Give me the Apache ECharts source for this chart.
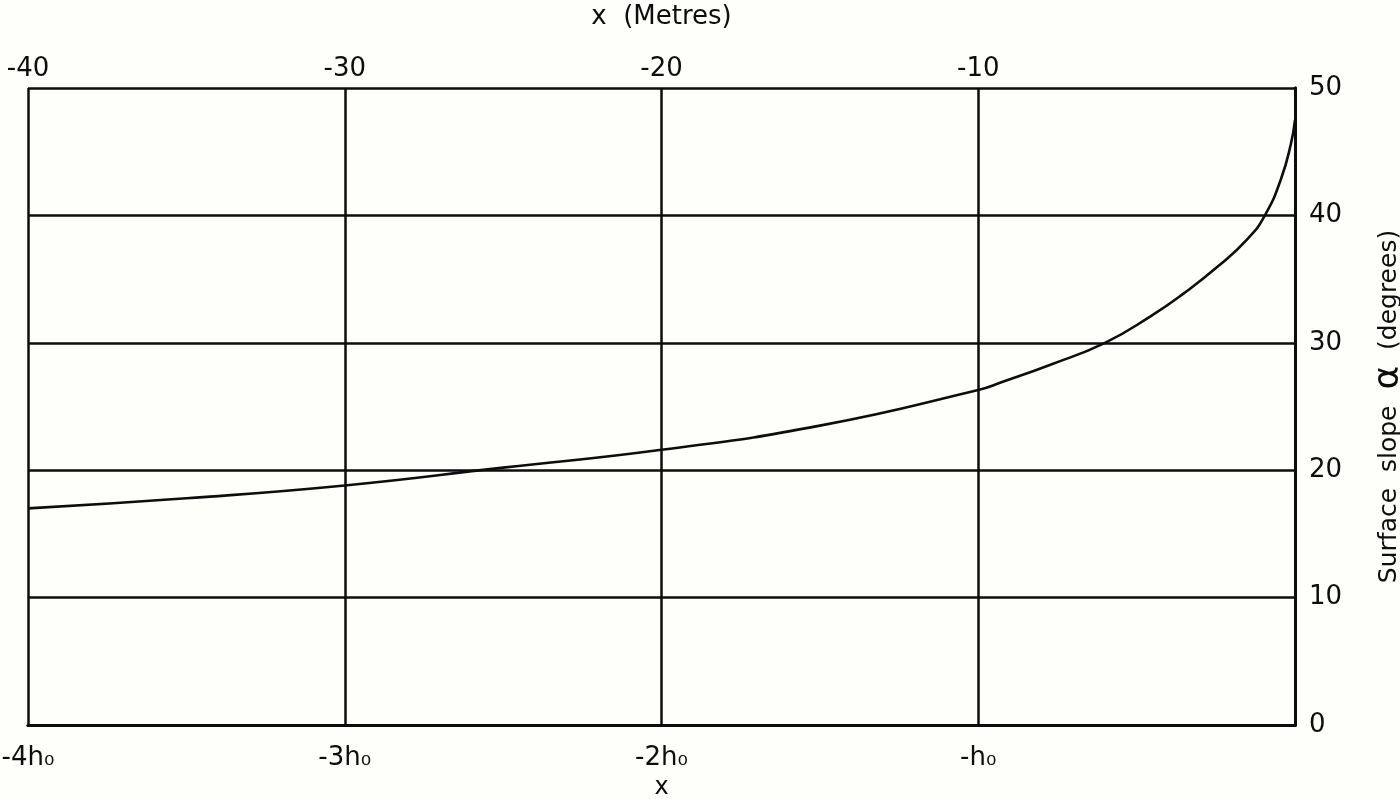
<!DOCTYPE html>
<html>
<head>
<meta charset="utf-8">
<script src="https://cdn.jsdelivr.net/npm/echarts@6/dist/echarts.min.js"></script>
<style>
  html, body { margin: 0; padding: 0; background: #fefefb; }
  #chartBox { width: 1400px; height: 799px; }
</style>
</head>
<body>
<div id="chartBox"></div>
<script>
// x in metres, slope alpha in degrees
const xMetres = [-40, -35, -30, -25, -20, -15, -10, -9.27, -7.7, -6, -4.55, -3.5, -2.43, -1.48, -0.95, -0.45, -0.13, 0];
const slopeDeg = [17.0, 17.8, 18.8, 20.2, 21.6, 23.5, 26.3, 26.9, 28.3, 30.0, 32.1, 33.9, 36.0, 38.2, 40.0, 42.8, 45.6, 47.5];

const topTicks = { '-40': '-40', '-30': '-30', '-20': '-20', '-10': '-10' };
const bottomTicks = { '-40': '-4h\u2080', '-30': '-3h\u2080', '-20': '-2h\u2080', '-10': '-h\u2080' };

const font = 'DejaVu Sans';
const ink = '#0d0d0d';

let points = xMetres.map((x, i) => [x, slopeDeg[i]]);

let option = {
    backgroundColor: '#fefefb',
    animation: false,
    grid: {
        left: 28,
        right: 105,
        top: 88,
        bottom: 74,
        outerBoundsMode: 'none'
    },
    xAxis: [
        {
            type: 'value',
            position: 'bottom',
            min: -40,
            max: 0,
            interval: 10,
            name: 'x',
            nameLocation: 'middle',
            nameGap: 49,
            nameTextStyle: { fontFamily: font, fontSize: 24, color: ink },
            axisLine: { show: true, lineStyle: { color: ink, width: 3 } },
            axisTick: { show: false },
            axisLabel: {
                margin: 20,
                fontFamily: font,
                fontSize: 26,
                color: ink,
                formatter: (v) => bottomTicks[v] || ''
            },
            splitLine: { show: true, lineStyle: { color: ink, width: 2.5 } }
        },
        {
            type: 'value',
            position: 'top',
            min: -40,
            max: 0,
            interval: 10,
            name: 'x  (Metres)',
            nameLocation: 'middle',
            nameGap: 58,
            nameTextStyle: { fontFamily: font, fontSize: 26, color: ink },
            axisLine: { show: true, lineStyle: { color: ink, width: 3 } },
            axisTick: { show: false },
            axisLabel: {
                margin: 6,
                fontFamily: font,
                fontSize: 26,
                color: ink,
                formatter: (v) => topTicks[v] || ''
            },
            splitLine: { show: false }
        }
    ],
    yAxis: [
        {
            type: 'value',
            position: 'right',
            min: 0,
            max: 50,
            interval: 10,
            name: 'Surface  slope  {a|\u03b1}  (degrees)',
            nameLocation: 'middle',
            nameGap: 76,
            nameRotate: 90,
            nameTextStyle: {
                fontFamily: font,
                fontSize: 25,
                color: ink,
                rich: { a: { fontFamily: font, fontSize: 36, color: ink } }
            },
            axisLine: { show: true, lineStyle: { color: ink, width: 3 } },
            axisTick: { show: false },
            axisLabel: {
                margin: 14,
                fontFamily: font,
                fontSize: 26,
                color: ink
            },
            splitLine: { show: true, lineStyle: { color: ink, width: 2.5 } }
        },
        {
            type: 'value',
            position: 'left',
            min: 0,
            max: 50,
            interval: 10,
            axisLine: { show: true, lineStyle: { color: ink, width: 3 } },
            axisTick: { show: false },
            axisLabel: { show: false },
            splitLine: { show: false }
        }
    ],
    series: [
        {
            name: 'slope',
            type: 'line',
            xAxisIndex: 0,
            yAxisIndex: 0,
            data: points,
            smooth: 0.5,
            showSymbol: false,
            lineStyle: { color: ink, width: 2.6 }
        }
    ]
};

let myChart = echarts.init(document.getElementById('chartBox'));
myChart.setOption(option);
</script>
</body>
</html>
